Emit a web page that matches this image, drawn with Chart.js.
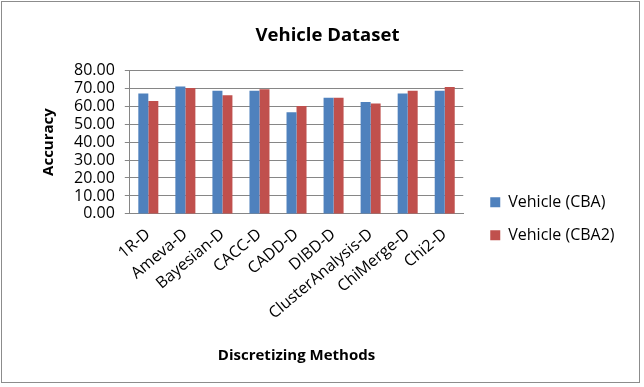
<!DOCTYPE html>
<html>
<head>
<meta charset="utf-8">
<script src="https://cdn.jsdelivr.net/npm/chart.js@4"></script>
<style>
  body { margin: 0; background: #fff; }
  #wrap { width: 644px; height: 387px; }
</style>
</head>
<body>
<div id="wrap"><canvas id="chart" width="644" height="387"></canvas></div>
<script>
const methods = ['1R-D', 'Ameva-D', 'Bayesian-D', 'CACC-D', 'CADD-D', 'DIBD-D', 'ClusterAnalysis-D', 'ChiMerge-D', 'Chi2-D'];
const cba = [67.0, 70.9, 68.5, 68.5, 56.6, 64.7, 62.3, 67.0, 68.5];
const cba2 = [62.9, 70.1, 66.0, 69.4, 60.1, 64.7, 61.4, 68.5, 70.7];
const yTicks = [0, 10, 20, 30, 40, 50, 60, 70, 80];

const fontFamily = "'Open Sans', 'Liberation Sans', sans-serif";
const legendGap = 10;

// outer border + a little gap between plot and legend
const frame = {
  id: 'frame',
  afterInit(chart) {
    const lg = chart.legend;
    const fit = lg.fit.bind(lg);
    lg.fit = function () { fit(); this.width += legendGap; };
  },
  afterLayout(chart) {
    chart.legend.left += legendGap;
  },
  afterDraw(chart) {
    const c = chart.ctx;
    c.save();
    c.strokeStyle = '#8c8c8c';
    c.lineWidth = 1;
    c.strokeRect(1.5, 1.5, 638, 381);
    c.restore();
  }
};

new Chart(document.getElementById('chart'), {
  type: 'bar',
  data: {
    labels: methods,
    datasets: [
      { label: 'Vehicle (CBA)', data: cba, backgroundColor: '#4F81BD' },
      { label: 'Vehicle (CBA2)', data: cba2, backgroundColor: '#C0504D' }
    ]
  },
  options: {
    responsive: false,
    animation: false,
    layout: { padding: { top: 10, left: 36, right: 25, bottom: 18 } },
    categoryPercentage: 0.54,
    barPercentage: 1,
    plugins: {
      title: {
        display: true,
        text: 'Vehicle Dataset',
        color: '#000',
        font: { family: fontFamily, size: 18.5, weight: 'bold' },
        padding: { top: 15, bottom: 23 }
      },
      legend: {
        position: 'right',
        labels: {
          color: '#000',
          font: { family: fontFamily, size: 16 },
          boxWidth: 10,
          boxHeight: 10,
          padding: 17
        },
        title: { display: true, text: ' ', padding: { top: 44 } }
      },
      tooltip: { enabled: false }
    },
    scales: {
      x: {
        grid: { display: false },
        border: { color: '#868686' },
        ticks: {
          color: '#000',
          font: { family: fontFamily, size: 16 },
          minRotation: 40,
          maxRotation: 40
        },
        title: {
          display: true,
          text: 'Discretizing Methods',
          color: '#000',
          font: { family: fontFamily, size: 15, weight: 'bold' },
          padding: { top: 21 }
        }
      },
      y: {
        min: 0,
        max: 80,
        afterBuildTicks: axis => { axis.ticks = yTicks.map(v => ({ value: v })); },
        ticks: {
          autoSkip: false,
          padding: 10,
          color: '#000',
          font: { family: fontFamily, size: 16 },
          callback: v => v.toFixed(2)
        },
        grid: { color: '#868686', tickLength: 5 },
        border: { color: '#868686' },
        title: {
          display: true,
          text: 'Accuracy',
          color: '#000',
          font: { family: fontFamily, size: 15, weight: 'bold' },
          padding: { top: 4, bottom: 6 }
        }
      }
    }
  },
  plugins: [frame]
});
</script>
</body>
</html>
